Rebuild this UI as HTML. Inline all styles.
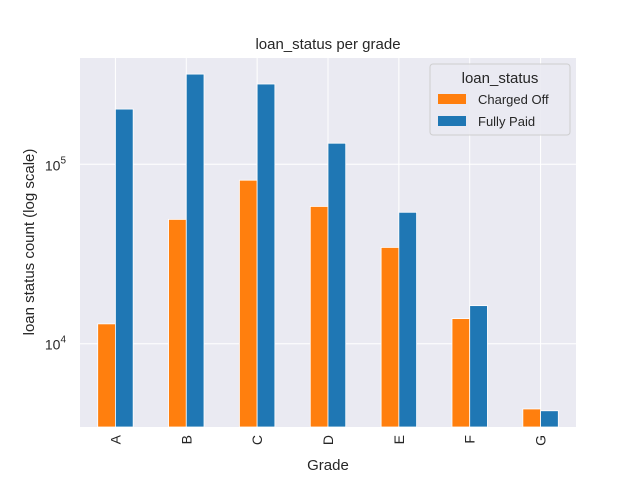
<!DOCTYPE html>
<html><head><meta charset="utf-8"><style>
body{margin:0;background:#fff;font-family:"Liberation Sans","DejaVu Sans",sans-serif}
</style></head><body>
<svg width="640" height="480" xmlns="http://www.w3.org/2000/svg" id="svg">
<rect width="640" height="480" fill="#fff"/>
<rect x="80" y="58" width="496" height="369" fill="#eaeaf2"/>
<g id="grid"></g><g id="bars"></g><g id="ticks"></g>
<text x="328" y="49" font-size="15" text-anchor="middle" fill="#262626">loan_status per grade</text>
<text x="328" y="470" font-size="15" text-anchor="middle" fill="#262626">Grade</text>
<text transform="translate(34,242) rotate(-90)" font-size="15" text-anchor="middle" fill="#262626">loan status count (log scale)</text>
<g>
<rect x="430" y="64" width="140" height="71" rx="3" fill="#eaeaf2" stroke="#ccc" opacity="0.9"/>
<text x="500" y="83" font-size="15" text-anchor="middle" fill="#262626">loan_status</text>
<rect x="438" y="94" width="28" height="10" fill="#ff7f0e"/>
<text x="478" y="104" font-size="13" fill="#262626">Charged Off</text>
<rect x="438" y="116" width="28" height="10" fill="#1f77b4"/>
<text x="478" y="126" font-size="13" fill="#262626">Fully Paid</text>
</g>
</svg>
<script>
const categories=["A","B","C","D","E","F","G"];
const chargedOff=[12900,49300,81500,58200,34400,13800,4330];
const fullyPaid=[203000,318000,280000,131000,54000,16300,4230];
const yTicks=[10000,100000];
const yTickLabels=[["10","4"],["10","5"]];
const NS="http://www.w3.org/2000/svg";
const X0=80,W=496,Y0=58,H=369,lmin=Math.log10(3435),lmax=Math.log10(391000);
const y=v=>Y0+H*(lmax-Math.log10(v))/(lmax-lmin);
const step=W/categories.length;
const xc=i=>X0+step*(i+0.5);
function mk(t,a,p){const e=document.createElementNS(NS,t);for(const k in a)e.setAttribute(k,a[k]);p.appendChild(e);return e;}
const grid=document.getElementById('grid'),bars=document.getElementById('bars'),ticks=document.getElementById('ticks');
yTicks.forEach((v,i)=>{
 const l=mk('line',{x1:X0,x2:X0+W,y1:y(v),y2:y(v),stroke:'#fff','stroke-width':1},grid);
 
 
 const t=mk('text',{x:66,y:y(v)+6,'font-size':14,'text-anchor':'end',fill:'#262626'},ticks);
 
 
 t.textContent=yTickLabels[i][0];
 const s=mk('tspan',{dy:-7,'font-size':10},t);s.textContent=yTickLabels[i][1];
});
const bw=step*0.25;
categories.forEach((c,i)=>{
 const l=mk('line',{x1:xc(i),x2:xc(i),y1:Y0,y2:Y0+H,stroke:'#fff','stroke-width':1},grid);
 
 
 const b1=mk('rect',{x:xc(i)-bw,y:y(chargedOff[i]),width:bw,height:Y0+H-y(chargedOff[i]),fill:'#ff7f0e',stroke:'#fff','stroke-width':0.8},bars);
 
 
 const b2=mk('rect',{x:xc(i),y:y(fullyPaid[i]),width:bw,height:Y0+H-y(fullyPaid[i]),fill:'#1f77b4',stroke:'#fff','stroke-width':0.8},bars);
 
 
 const t=mk('text',{transform:`translate(${xc(i)+5},${Y0+H+8}) rotate(-90)`,'font-size':14,'text-anchor':'end',fill:'#262626'},ticks);
 
 
 t.textContent=c;
});
</script>
</body></html>
